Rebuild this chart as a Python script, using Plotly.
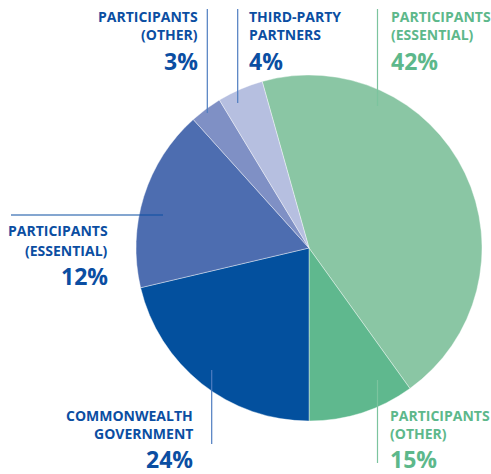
import plotly.graph_objects as go

# Slice sizes (degrees converted to %), clockwise from the top-left
categories = ["Participants (Essential) green", "Participants (Other) green",
              "Commonwealth Government", "Participants (Essential) blue",
              "Participants (Other) blue", "Third-party partners"]
slice_values = [44.4, 9.9, 21.3, 17.0, 3.0, 4.3]
slice_colors = ["#8AC6A4", "#5FB88E", "#03509E", "#4D6DB0", "#7F90C5", "#B6BFE0"]

# Label texts
label_lines = [
    ["PARTICIPANTS", "(ESSENTIAL)"],
    ["PARTICIPANTS", "(OTHER)"],
    ["COMMONWEALTH", "GOVERNMENT"],
    ["PARTICIPANTS", "(ESSENTIAL)"],
    ["PARTICIPANTS", "(OTHER)"],
    ["THIRD-PARTY", "PARTNERS"],
]
label_pcts = ["42%", "15%", "24%", "12%", "3%", "4%"]

W, H = 491, 474
BLUE = "#0B4EA2"
GREEN = "#5DB88B"
BLUE_LINE = "#4F7DC0"
GREEN_LINE = "#7CC49E"

fig = go.Figure()
cx, cy, r = 309, 248, 173
fig.add_trace(go.Pie(
    labels=categories, values=slice_values, sort=False, direction="clockwise",
    rotation=-15.7, textinfo="none", hoverinfo="label+percent",
    marker=dict(colors=slice_colors, line=dict(color="white", width=0.4)),
    domain=dict(x=[(cx - r) / W, (cx + r) / W], y=[(H - cy - r) / H, (H - cy + r) / H]),
    showlegend=False,
))

def px(x):
    return x / W

def py(y):
    return 1 - y / H

# (x anchor px, align, line1 y, line2 y, pct y, color)
label_pos = [
    (389, "left", 16, 35, 61, GREEN),
    (388, "left", 415, 433, 459, GREEN),
    (195, "right", 415, 433, 459, BLUE),
    (110, "right", 231, 250, 276, BLUE),
    (200, "right", 16, 35, 61, BLUE),
    (247, "left", 16, 35, 61, BLUE),
]

annotations = []
for lines, pct, (x, al, y1, y2, y3, col) in zip(label_lines, label_pcts, label_pos):
    for txt, yy, size in [(lines[0], y1, 14), (lines[1], y2, 14), (pct, y3, 23)]:
        annotations.append(dict(
            x=px(x), y=py(yy), xref="paper", yref="paper", text=txt, showarrow=False,
            xanchor="left" if al == "left" else "right", yanchor="middle",
            font=dict(family="Open Sans", size=size, color=col, weight="bold"),
        ))

leader_lines = [
    (377.5, 9, 377.5, 106, GREEN_LINE),
    (377.5, 380, 377.5, 463, GREEN_LINE),
    (211.7, 370, 211.7, 444, BLUE_LINE),
    (11, 215, 163, 215, BLUE),
    (207.3, 9, 207.3, 113, BLUE_LINE),
    (237.7, 9, 237.7, 103, BLUE_LINE),
]
shapes = [dict(type="line", xref="paper", yref="paper", x0=px(a), y0=py(b), x1=px(c), y1=py(d),
               line=dict(color=col, width=1.2)) for a, b, c, d, col in leader_lines]

fig.update_layout(
    width=W, height=H, margin=dict(l=0, r=0, t=0, b=0),
    paper_bgcolor="white", plot_bgcolor="white",
    annotations=annotations, shapes=shapes,
)
fig.write_html("out.html")
